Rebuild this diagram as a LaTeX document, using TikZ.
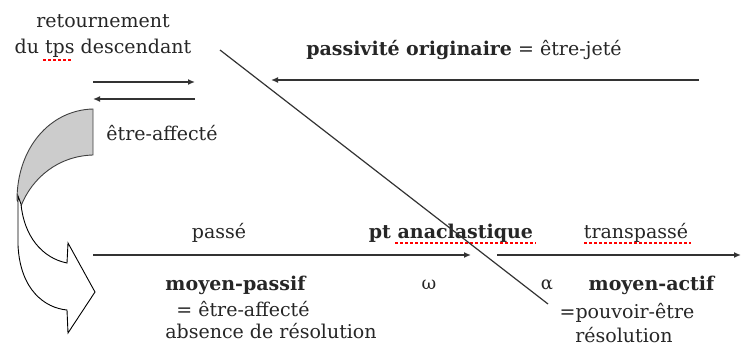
\documentclass[tikz,border=0pt]{standalone}
\usepackage{fontspec}
\setmainfont{DejaVu Serif}
\usetikzlibrary{arrows.meta}
\begin{document}
\begin{tikzpicture}[x=1pt,y=-1pt,
  txt/.style={inner sep=0pt,font=\fontsize{19}{26}\selectfont,text=black!85},
  ln/.style={line width=1.4pt,draw=black!80},
  arr/.style={ln,-{Latex[length=7pt,width=6pt]}},
  spell/.style={draw=red,line width=2.6pt,dash pattern=on 3pt off 2pt}]
\useasboundingbox (0,0) rectangle (741,347);
% curved arrow
\filldraw[fill=black!20,draw=black!75,line width=0.9pt]
  (93,109) .. controls (50,110) and (17,148) .. (17,200)
  -- (21,206) .. controls (32,178) and (58,156) .. (93,155) -- cycle;
\filldraw[fill=white,draw=black,line width=0.9pt]
  (18,196) -- (18,245) .. controls (20,290) and (45,308) .. (67,310)
  -- (68,333) -- (95,292) -- (68,243) -- (67,263)
  .. controls (42,258) and (24,236) .. (21,204) -- cycle;
% texts
\node[txt,align=center] (ret) at (103,36) {retournement\\du tps descendant};
\node[txt] (affect) at (162,133) {être-affecté};
\node[txt] (pass) at (464,50) {\textbf{passivité originaire} = être-jeté};
\node[txt] (passe) at (219,233) {passé};
\node[txt] (pt) at (451,233) {\textbf{pt anaclastique}};
\node[txt] (trans) at (636,233) {transpassé};
\node[txt] (mp) at (236,285) {\textbf{moyen-passif}};
\node[txt] (ea) at (243,309) {= être-affecté};
\node[txt] (abs) at (271,331) {absence de résolution};
\node[txt,font=\fontsize{18}{20}\selectfont] (omega) at (429,285) {ω};
\node[txt,font=\fontsize{18}{20}\selectfont] (alpha) at (547,285) {α};
\node[txt] (ma) at (652,285) {\textbf{moyen-actif}};
\node[txt] (pe) at (627,313) {=pouvoir-être};
\node[txt] (res) at (624,335) {résolution};
% spell-check underlines
\draw[spell] (43,60) -- (72,60);
\draw[spell] (395,243) -- (536,243);
\draw[spell] (584,243) -- (691,243);
% coordinates
\coordinate (r1) at (93,82); \coordinate (r2) at (195,82);
\coordinate (l1) at (195,99); \coordinate (l2) at (93,99);
\coordinate (t1) at (699,80); \coordinate (t2) at (271,80);
\coordinate (b1) at (93,255); \coordinate (b2) at (471,255);
\coordinate (c1) at (497,255); \coordinate (c2) at (741,255);
\coordinate (d1) at (220,50); \coordinate (d2) at (548,304);
% connectors
\draw[arr] (r1) -- (r2);
\draw[arr] (l1) -- (l2);
\draw[arr] (t1) -- (t2);
\draw[arr] (b1) -- (b2);
\draw[arr] (c1) -- (c2);
\draw[ln,line width=1.2pt] (d1) -- (d2);
\end{tikzpicture}
\end{document}
